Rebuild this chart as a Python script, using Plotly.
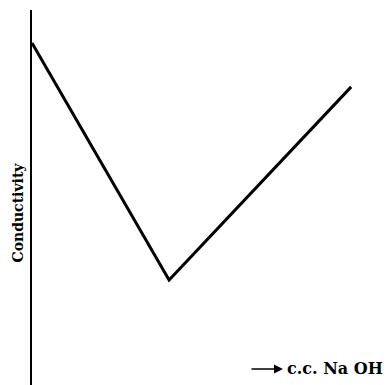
import plotly.graph_objects as go

# Conductometric titration: conductivity vs volume of NaOH added
volume_naoh = [0.0, 3.84, 8.94]
conductivity = [9.12, 2.80, 7.95]

x_label = "c.c. Na OH"
y_label = "Conductivity"

fig = go.Figure()
fig.add_trace(go.Scatter(
    x=volume_naoh, y=conductivity, mode="lines",
    line=dict(color="black", width=3),
    hoverinfo="skip", showlegend=False,
))

serif = "DejaVu Serif, Liberation Serif, serif"

fig.update_layout(
    width=389, height=385,
    margin=dict(l=32, r=0, t=10, b=0),
    paper_bgcolor="white", plot_bgcolor="white",
    xaxis=dict(range=[0, 10], showgrid=False, zeroline=False,
               showticklabels=False, ticks="", showline=False),
    yaxis=dict(range=[0, 10], showgrid=False, zeroline=False,
               showticklabels=False, ticks="", showline=True,
               linecolor="black", linewidth=2),
    annotations=[
        dict(xref="paper", yref="paper", x=-0.042, y=0.46,
             text="<b>" + y_label + "</b>", textangle=-90, showarrow=False,
             font=dict(family=serif, size=14, color="black"),
             xanchor="center", yanchor="middle"),
        dict(xref="paper", yref="paper", x=1.0, y=0.045,
             text="<b>" + x_label + "</b>", showarrow=False,
             font=dict(family=serif, size=16, color="black"),
             xanchor="right", yanchor="middle", xshift=-4),
        dict(xref="paper", yref="paper", x=0.703, y=0.043,
             ax=-33, ay=0, text="", showarrow=True,
             arrowhead=2, arrowsize=1.2, arrowwidth=1.5,
             arrowcolor="black"),
    ],
)

fig.write_html("out.html")
